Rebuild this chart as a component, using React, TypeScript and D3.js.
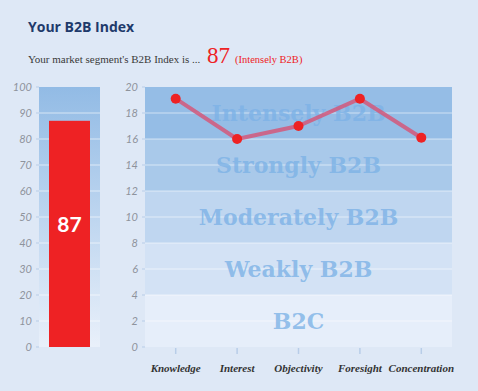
import React from 'react';
import * as d3 from 'd3';

// data
const indexValue = 87
const indexLabel = 'Intensely B2B'
const categories = ['Knowledge', 'Interest', 'Objectivity', 'Foresight', 'Concentration']
const scores = [19.1, 16, 17, 19.1, 16.1]
const bandNames = ['B2C', 'Weakly B2B', 'Moderately B2B', 'Strongly B2B', 'Intensely B2B']
const bandEdges = [0, 4, 8, 12, 16, 20]
const bandColors = ['#e6eefa', '#d3e2f5', '#bfd6f0', '#a9c9ea', '#95bde6']
const leftTicks = d3.range(0, 101, 10)
const rightTicks = d3.range(0, 21, 2)

const W = 478
const H = 391

const App = () => {
    const top = 87
    const bottom = 347

    // escalas
    const yLeft = d3.scaleLinear().domain([0, 100]).range([bottom, top])
    const yRight = d3.scaleLinear().domain([0, 20]).range([bottom, top])
    const x = d3.scalePoint<string>().domain(categories).range([145, 452]).padding(0.5)

    const line = d3.line<number>()
        .x((d, i) => x(categories[i]) as number)
        .y(d => yRight(d))(scores)

    const axisFont = { fontFamily: 'Lato', fontStyle: 'italic', fontSize: 11, fill: '#8e939c' }

    return (
        <svg width={W} height={H} style={{ position: 'absolute', left: 0, top: 0, background: '#dee8f6' }}>
            <defs>
                <linearGradient id="leftGrad" x1="0" y1="0" x2="0" y2="1">
                    <stop offset="0%" stopColor="#92bbe5" />
                    <stop offset="100%" stopColor="#e9f0fa" />
                </linearGradient>
            </defs>
            <rect width={W} height={H} fill="#dee8f6" />

            <text x={28} y={32} fontFamily="Open Sans" fontWeight={700} fontSize={14} fill="#1e3a6b">Your B2B Index</text>
            <text y={63} fontFamily="Liberation Serif" fontSize={11} fill="#3a3a3a">
                <tspan x={28}>Your market segment's B2B Index is ...</tspan>
                <tspan x={207} fontSize={23} fill="#ee2224">{indexValue}</tspan>
                <tspan x={235} fontSize={10.5} fill="#ee2224">({indexLabel})</tspan>
            </text>

            {/* left chart */}
            <rect x={39} y={top} width={61} height={bottom - top} fill="url(#leftGrad)" />
            {leftTicks.map(t => (
                <g key={t}>
                    {t > 0 && t < 100 && <line x1={39} x2={100} y1={yLeft(t)} y2={yLeft(t)} stroke="#fff" strokeOpacity={0.6} />}
                    <line x1={36} x2={39} y1={yLeft(t)} y2={yLeft(t)} stroke="#b8cde8" />
                    <text x={32} y={yLeft(t)} dy=".35em" textAnchor="end" {...axisFont}>{t}</text>
                </g>
            ))}
            <rect x={49} y={yLeft(indexValue)} width={41} height={bottom - yLeft(indexValue)} fill="#ee2224" />
            <text x={69.5} y={232} textAnchor="middle" fontFamily="Lato" fontWeight={700} fontSize={21} fill="#fff">{indexValue}</text>

            {/* right chart */}
            {bandNames.map((b, i) => (
                <rect key={b} x={145} width={307} y={yRight(bandEdges[i + 1])}
                    height={yRight(bandEdges[i]) - yRight(bandEdges[i + 1])} fill={bandColors[i]} />
            ))}
            {rightTicks.map(t => (
                <g key={t}>
                    {t > 0 && t < 20 && <line x1={145} x2={452} y1={yRight(t)} y2={yRight(t)} stroke="#fff" strokeOpacity={0.55} />}
                    <line x1={142} x2={145} y1={yRight(t)} y2={yRight(t)} stroke="#b8cde8" />
                    <text x={138} y={yRight(t)} dy=".35em" textAnchor="end" {...axisFont}>{t}</text>
                </g>
            ))}
            {bandNames.map((b, i) => (
                <text key={b} x={298.5} y={yRight((bandEdges[i] + bandEdges[i + 1]) / 2)} dy=".36em" textAnchor="middle"
                    fontFamily="DejaVu Serif" fontWeight={700} fontSize={22} fill="#7db2e6" fillOpacity={0.8}>{b}</text>
            ))}
            {categories.map(c => (
                <g key={c}>
                    <line x1={x(c)} x2={x(c)} y1={bottom + 1} y2={bottom + 7} stroke="#b8cde8" strokeWidth={1.5} />
                    <text x={x(c)} y={372} textAnchor="middle" fontFamily="Liberation Serif" fontStyle="italic" fontWeight={600} fontSize={11} fill="#333">{c}</text>
                </g>
            ))}
            <path d={line as string} fill="none" stroke="#d4587a" strokeOpacity={0.85} strokeWidth={4} strokeLinejoin="round" />
            {scores.map((s, i) => (
                <circle key={categories[i]} cx={x(categories[i])} cy={yRight(s)} r={5} fill="#ee2224" />
            ))}
        </svg>
    );
}

export default App;
